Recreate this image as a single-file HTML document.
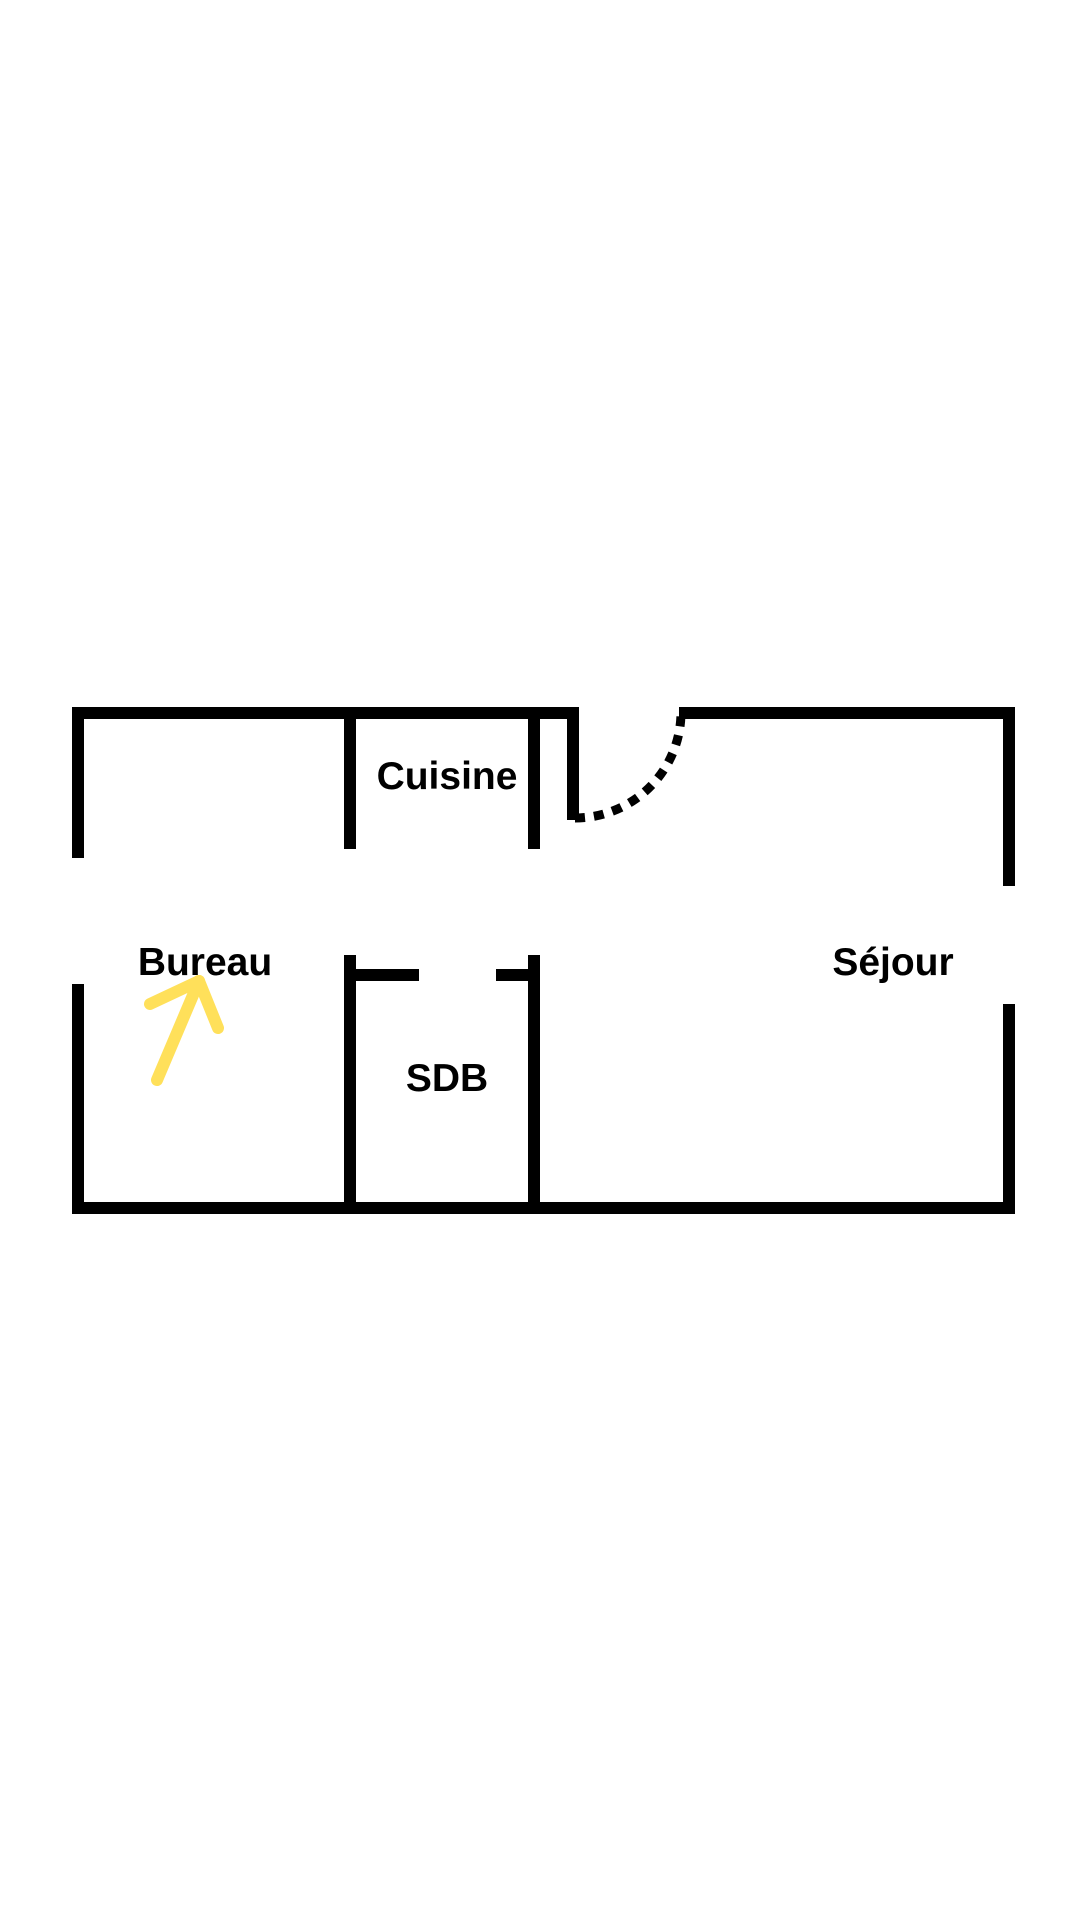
<!DOCTYPE html>
<html><head><meta charset="utf-8"><style>
html,body{margin:0;padding:0;background:#fff;}
svg{display:block}
text{font-family:"Liberation Sans",sans-serif;font-weight:bold;fill:#000;}
</style></head><body>
<svg width="1080" height="1920" viewBox="0 0 1080 1920">
<rect width="1080" height="1920" fill="#fff"/>
<g transform="translate(1,2)">
<g fill="#000">
<rect x="71" y="705" width="507" height="12"/>
<rect x="678" y="705" width="336" height="12"/>
<rect x="71" y="1200" width="943" height="12"/>
<rect x="71" y="705" width="12" height="151"/>
<rect x="71" y="982" width="12" height="230"/>
<rect x="1002" y="705" width="12" height="179"/>
<rect x="1002" y="1002" width="12" height="210"/>
<rect x="343" y="705" width="12" height="142"/>
<rect x="343" y="953" width="12" height="259"/>
<rect x="527" y="705" width="12" height="142"/>
<rect x="527" y="953" width="12" height="259"/>
<rect x="566" y="705" width="12" height="113"/>
<rect x="355" y="967" width="63" height="12"/>
<rect x="495" y="967" width="32" height="12"/>
</g>
<path d="M574 816 A106 106 0 0 0 680 710" fill="none" stroke="#000" stroke-width="9" stroke-dasharray="10 9"/>
<g stroke="#FFE05A" stroke-width="12" stroke-linecap="round" fill="none">
<line x1="156" y1="1078" x2="198" y2="979"/>
<line x1="149" y1="1002" x2="198" y2="979"/>
<line x1="217" y1="1026" x2="198" y2="979"/>
</g>
<text x="446" y="787" font-size="39" text-anchor="middle">Cuisine</text>
<text x="204" y="973" font-size="39" text-anchor="middle">Bureau</text>
<text x="892" y="973" font-size="39" text-anchor="middle">Séjour</text>
<text x="446" y="1089" font-size="39" text-anchor="middle">SDB</text>
</g>
</svg>
</body></html>
